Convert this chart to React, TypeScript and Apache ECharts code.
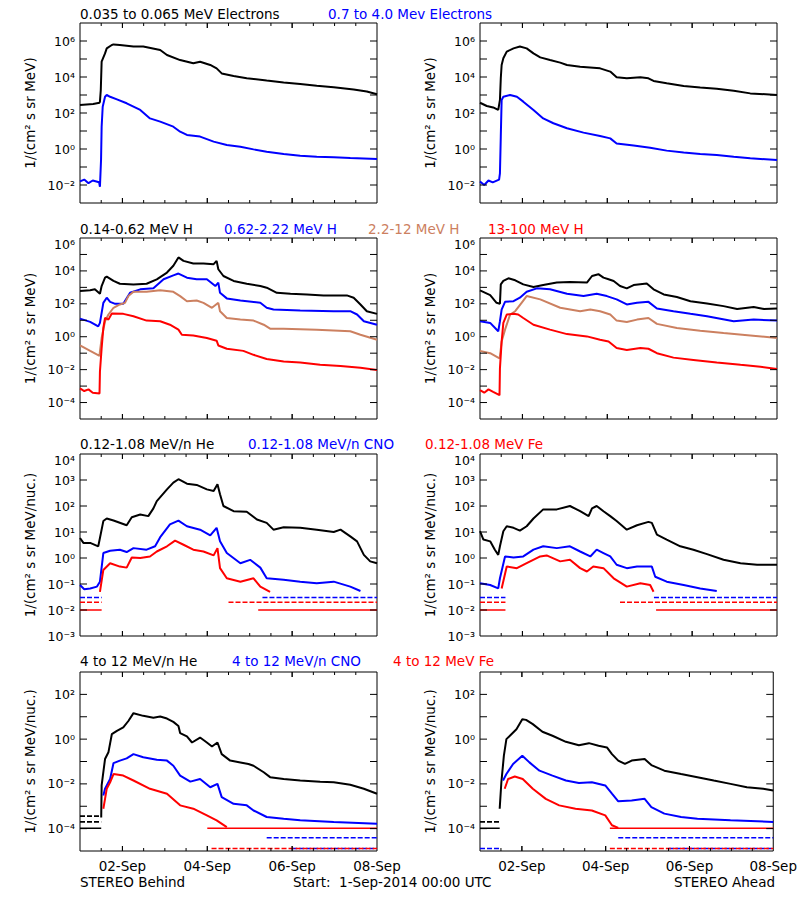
import React, { useEffect, useRef } from "react";
import * as echarts from "echarts";

// Time: days since 1-Sep-2014 00:00 UTC. Values: log10 of flux (plotted on decade axes).
// ---------- Row 1: electrons ----------
const behindElecLow = [[0,2.44],[0.31,2.5],[0.46,2.57],[0.47,2.63],[0.49,3.28],[0.51,4.85],[0.59,5.31],[0.63,5.59],[0.75,5.78],[0.79,5.81],[0.94,5.78],[1.26,5.69],[1.49,5.69],[1.89,5.5],[2.05,5.22],[2.36,4.94],[2.67,4.76],[2.83,4.85],[3.07,4.67],[3.22,4.48],[3.34,4.2],[3.62,4.06],[3.93,3.93],[4.4,3.8],[4.8,3.7],[5.19,3.61],[5.58,3.52],[5.98,3.43],[6.45,3.31],[6.76,3.19],[7,3.04]];
const behindElecHigh = [[0,-1.8],[0.1,-1.7],[0.2,-1.9],[0.3,-1.75],[0.45,-1.85],[0.47,-2.1],[0.496,-0.6],[0.51,1.24],[0.535,2.35],[0.59,2.9],[0.63,3.0],[0.71,2.9],[0.87,2.76],[1.1,2.54],[1.42,2.17],[1.65,1.7],[1.89,1.52],[2.2,1.24],[2.36,0.96],[2.52,0.78],[2.83,0.69],[3.15,0.41],[3.46,0.22],[3.78,0.13],[4.09,-0.02],[4.4,-0.15],[4.8,-0.28],[5.19,-0.37],[5.58,-0.43],[5.98,-0.46],[6.37,-0.5],[7,-0.56]];
const aheadElecLow = [[0,2.57],[0.16,2.39],[0.31,2.31],[0.43,2.17],[0.47,2.72],[0.49,3.93],[0.51,4.67],[0.55,5.04],[0.63,5.41],[0.79,5.59],[0.94,5.69],[1.1,5.59],[1.26,5.31],[1.42,5.09],[1.65,4.94],[1.89,4.8],[2.05,4.67],[2.36,4.57],[2.67,4.52],[2.83,4.48],[3.07,4.3],[3.22,3.98],[3.46,3.93],[3.78,3.98],[3.97,3.93],[4.09,3.78],[4.4,3.65],[4.8,3.5],[5.19,3.41],[5.58,3.35],[5.98,3.24],[6.37,3.09],[7,3.0]];
const aheadElecHigh = [[0,-1.8],[0.1,-2.0],[0.2,-1.75],[0.3,-1.85],[0.45,-1.7],[0.47,-1.35],[0.49,0.69],[0.51,2.72],[0.55,2.9],[0.71,3.0],[0.87,2.9],[1.02,2.63],[1.26,2.17],[1.49,1.7],[1.73,1.43],[2.05,1.15],[2.44,0.91],[2.83,0.72],[3.07,0.59],[3.22,0.31],[3.62,0.19],[4.01,0.07],[4.4,-0.09],[4.8,-0.2],[5.19,-0.28],[5.58,-0.33],[5.98,-0.43],[6.37,-0.52],[7,-0.61]];

// ---------- Row 2: protons ----------
const behindH1 = [[0,2.78],[0.24,2.82],[0.35,2.88],[0.47,2.61],[0.51,3.08],[0.59,3.59],[0.63,3.65],[0.79,3.39],[0.94,3.22],[1.26,3.18],[1.57,3.22],[1.81,3.49],[2.05,3.9],[2.2,4.31],[2.32,4.82],[2.44,4.61],[2.67,4.45],[2.91,4.45],[3.15,4.41],[3.22,4.61],[3.26,4.1],[3.38,3.69],[3.62,3.39],[3.93,3.22],[4.25,3.08],[4.4,2.98],[4.64,2.67],[4.96,2.61],[5.35,2.57],[5.74,2.51],[6.29,2.51],[6.45,2.37],[6.61,1.96],[6.76,1.55],[7,1.39]];
const behindH2 = [[0,1.1],[0.24,0.9],[0.43,0.63],[0.47,0.84],[0.55,2.06],[0.63,2.37],[0.71,2.12],[0.83,2.0],[1.02,2.0],[1.18,2.67],[1.42,2.88],[1.73,2.94],[1.97,3.49],[2.2,3.73],[2.32,3.84],[2.52,3.59],[2.75,3.49],[2.99,3.49],[3.19,3.08],[3.26,3.29],[3.3,2.67],[3.46,2.33],[3.78,2.2],[4.25,2.06],[4.4,1.76],[4.56,1.65],[5.19,1.59],[5.98,1.55],[6.37,1.55],[6.53,1.35],[6.69,0.94],[7,0.73]];
const behindH3 = [[0,-0.53],[0.24,-0.86],[0.46,-1.16],[0.47,-0.9],[0.51,-0.08],[0.59,0.94],[0.67,1.35],[0.79,1.76],[0.94,1.96],[1.06,2.06],[1.14,2.47],[1.26,2.73],[1.57,2.73],[1.89,2.82],[2.2,2.73],[2.36,2.47],[2.52,2.16],[2.75,2.2],[2.91,2.06],[3.11,1.76],[3.26,2.06],[3.3,1.55],[3.46,1.14],[3.78,1.04],[4.09,0.98],[4.33,0.73],[4.48,0.49],[4.8,0.49],[5.58,0.43],[6.37,0.33],[6.61,0.12],[7,-0.18]];
const behindH4 = [[0,-3.14],[0.1,-3.3],[0.2,-3.2],[0.3,-3.4],[0.46,-3.45],[0.47,-2.12],[0.51,-0.69],[0.55,0.53],[0.59,1.14],[0.67,1.04],[0.75,1.41],[1.02,1.39],[1.26,1.24],[1.57,0.98],[1.89,0.94],[2.12,0.73],[2.32,0.43],[2.4,0.12],[2.67,0.08],[2.99,-0.08],[3.22,-0.24],[3.26,-0.53],[3.46,-0.73],[3.85,-0.86],[4.09,-1.1],[4.4,-1.35],[4.8,-1.51],[5.19,-1.57],[5.66,-1.71],[6.14,-1.78],[6.61,-1.88],[7,-2.02]];
const aheadH1 = [[0,2.82],[0.24,2.53],[0.39,2.06],[0.47,2.0],[0.49,3.18],[0.55,3.39],[0.67,3.55],[0.83,3.43],[1.02,3.18],[1.26,3.02],[1.49,3.14],[1.81,3.29],[2.12,3.33],[2.52,3.29],[2.64,3.69],[2.79,3.8],[2.91,3.59],[3.03,3.49],[3.15,3.39],[3.3,3.08],[3.46,2.94],[3.62,3.14],[3.93,3.24],[4.09,2.88],[4.33,2.57],[4.64,2.41],[4.96,2.16],[5.35,2.02],[5.74,1.86],[6.06,1.69],[6.45,1.8],[6.69,1.69],[7,1.71]];
const aheadH2 = [[0,0.94],[0.24,0.84],[0.43,0.33],[0.47,0.94],[0.51,1.65],[0.59,2.12],[0.79,2.16],[0.94,2.37],[1.1,2.73],[1.34,2.94],[1.65,2.88],[2.05,2.61],[2.44,2.47],[2.75,2.61],[2.99,2.47],[3.22,2.27],[3.46,1.96],[3.7,2.06],[3.97,2.12],[4.17,1.71],[4.56,1.55],[4.96,1.39],[5.35,1.24],[5.98,0.94],[6.45,1.04],[7,0.98]];
const aheadH3 = [[0,-0.86],[0.24,-1.0],[0.46,-1.31],[0.47,-1.2],[0.51,-0.29],[0.59,0.43],[0.71,1.35],[0.83,1.55],[0.98,2.06],[1.1,2.47],[1.42,2.27],[1.89,1.76],[2.36,1.55],[2.6,1.65],[2.83,1.55],[3.07,1.35],[3.22,0.98],[3.46,0.9],[3.7,1.04],[3.97,1.14],[4.17,0.78],[4.64,0.53],[5.19,0.37],[5.74,0.22],[6.37,0.08],[7,-0.08]];
const aheadH4 = [[0,-3.24],[0.1,-3.4],[0.2,-3.2],[0.31,-3.35],[0.46,-3.55],[0.47,-1.92],[0.51,-0.29],[0.55,0.84],[0.63,1.35],[0.79,1.39],[0.9,1.35],[1.02,1.14],[1.26,0.73],[1.65,0.43],[2.05,0.16],[2.52,0.02],[2.83,-0.18],[3.03,-0.29],[3.22,-0.69],[3.46,-0.8],[3.78,-0.69],[3.97,-0.73],[4.17,-1.0],[4.56,-1.27],[5.03,-1.41],[5.58,-1.57],[6.14,-1.71],[6.61,-1.82],[7,-1.96]];

// ---------- Row 3: low-energy heavy ions ----------
const behindHeLow = [[0,0.77],[0.08,0.58],[0.24,0.58],[0.43,0.45],[0.47,0.77],[0.55,1.42],[0.63,1.52],[0.79,1.44],[1.1,1.26],[1.22,1.57],[1.42,1.67],[1.61,1.61],[1.73,1.91],[1.81,2.19],[2.05,2.64],[2.2,2.9],[2.32,3.03],[2.52,2.86],[2.75,2.81],[2.99,2.64],[3.15,2.58],[3.24,2.84],[3.3,2.45],[3.38,2.0],[3.62,1.8],[3.93,1.78],[4.17,1.48],[4.4,1.35],[4.56,1.09],[4.8,1.18],[5.19,1.16],[5.58,1.09],[5.98,1.0],[6.14,1.09],[6.37,0.83],[6.53,0.64],[6.69,0.12],[6.84,-0.13],[7,-0.2]];
const behindCnoLow = [[0,-1.04],[0.1,-1.2],[0.24,-1.17],[0.4,-1.1],[0.47,-0.91],[0.55,0.19],[0.71,0.28],[0.94,0.32],[1.1,0.23],[1.26,0.38],[1.57,0.32],[1.77,0.45],[1.89,0.8],[2.12,1.29],[2.32,1.44],[2.52,1.22],[2.83,1.09],[3.07,0.87],[3.22,1.16],[3.3,0.64],[3.46,0.19],[3.78,-0.2],[4.01,-0.07],[4.25,-0.37],[4.4,-0.78],[4.8,-0.84],[5.19,-0.91],[5.58,-0.97],[5.98,-0.91],[6.37,-1.1],[6.61,-1.27]];
const behindFeLow = [[0.47,-1.3],[0.55,-0.46],[0.71,-0.2],[0.94,-0.33],[1.1,-0.37],[1.22,0.02],[1.42,0.0],[1.65,0.06],[1.81,0.25],[2.05,0.45],[2.24,0.67],[2.44,0.51],[2.67,0.32],[2.91,0.25],[3.15,0.1],[3.24,0.38],[3.3,-0.39],[3.46,-0.78],[3.78,-0.91],[4.09,-0.78],[4.25,-1.1],[4.48,-1.3]];
const aheadHeLow = [[0,1.03],[0.08,0.71],[0.24,0.64],[0.35,0.32],[0.43,0.12],[0.47,0.45],[0.55,1.03],[0.63,1.22],[0.79,1.16],[0.94,1.05],[1.1,1.22],[1.26,1.52],[1.49,1.87],[1.81,1.87],[2.12,2.0],[2.36,1.8],[2.56,1.61],[2.64,1.91],[2.75,2.0],[2.91,1.8],[3.07,1.61],[3.22,1.42],[3.46,1.09],[3.7,1.26],[3.97,1.39],[4.05,1.35],[4.17,0.9],[4.4,0.71],[4.72,0.45],[5.03,0.32],[5.35,0.15],[5.74,-0.07],[6.14,-0.2],[6.53,-0.26],[7,-0.26]];
const aheadCnoLow = [[0,-0.97],[0.24,-1.04],[0.43,-1.17],[0.47,-0.78],[0.59,0.06],[0.79,0.02],[1.02,0.06],[1.26,0.32],[1.49,0.45],[1.81,0.38],[2.12,0.45],[2.36,0.25],[2.6,0.06],[2.75,0.32],[2.91,0.19],[3.07,0.06],[3.22,-0.26],[3.46,-0.39],[3.7,-0.33],[4.05,-0.33],[4.13,-0.72],[4.4,-0.91],[4.8,-1.04],[5.19,-1.17],[5.58,-1.27]];
const aheadFeLow = [[0.51,-1.17],[0.63,-0.33],[0.87,-0.39],[1.1,-0.2],[1.42,0.06],[1.57,0.1],[1.89,-0.13],[2.12,-0.07],[2.36,-0.39],[2.52,-0.52],[2.67,-0.33],[2.91,-0.39],[3.15,-0.78],[3.46,-1.1],[3.78,-0.97],[4.01,-1.04],[4.09,-1.3]];

// ---------- Row 4: high-energy heavy ions ----------
const behindHeHigh = [[0.5,-3.5],[0.51,-2.07],[0.55,-1.48],[0.59,-0.89],[0.67,-0.59],[0.75,0.22],[0.87,0.37],[1.02,0.52],[1.14,0.81],[1.26,1.16],[1.49,1.04],[1.73,0.96],[1.89,1.01],[2.05,0.92],[2.2,0.77],[2.32,0.59],[2.36,0.27],[2.52,0.12],[2.64,-0.15],[2.83,0.07],[2.99,-0.15],[3.11,-0.33],[3.24,-0.15],[3.34,-0.67],[3.54,-0.96],[3.78,-1.04],[3.97,-1.11],[4.09,-1.19],[4.33,-1.48],[4.48,-1.7],[4.8,-1.78],[5.19,-1.85],[5.66,-1.9],[5.98,-1.93],[6.37,-2.04],[6.69,-2.22],[7,-2.44]];
const behindCnoHigh = [[0.55,-2.52],[0.59,-2.22],[0.63,-2.07],[0.71,-1.78],[0.79,-1.07],[0.94,-0.96],[1.1,-0.86],[1.26,-0.67],[1.49,-0.81],[1.81,-0.92],[2.05,-0.96],[2.2,-1.19],[2.36,-1.63],[2.6,-1.9],[2.83,-1.78],[3.07,-2.15],[3.24,-2.0],[3.34,-2.59],[3.62,-2.89],[3.93,-2.96],[4.09,-3.19],[4.4,-3.48],[4.8,-3.56],[5.19,-3.63],[5.98,-3.7],[7,-3.78]];
const behindFeHigh = [[0.55,-3.11],[0.59,-2.67],[0.63,-2.22],[0.71,-1.93],[0.79,-1.56],[1.02,-1.63],[1.26,-1.85],[1.65,-2.22],[2.05,-2.44],[2.36,-2.96],[2.67,-3.11],[2.99,-3.41],[3.22,-3.63],[3.46,-3.93]];
const aheadHeHigh = [[0.47,-3.11],[0.51,-1.93],[0.57,-0.74],[0.63,0.0],[0.75,0.22],[0.87,0.44],[1.01,0.89],[1.1,0.86],[1.26,0.67],[1.49,0.33],[1.73,0.15],[2.05,-0.12],[2.36,-0.27],[2.6,-0.18],[2.83,-0.3],[3.03,-0.37],[3.15,-0.67],[3.3,-0.96],[3.46,-1.11],[3.62,-0.96],[3.93,-0.89],[4.09,-1.16],[4.4,-1.41],[4.8,-1.56],[5.19,-1.7],[5.58,-1.85],[5.98,-2.0],[6.37,-2.15],[6.76,-2.22],[7,-2.3]];
const aheadCnoHigh = [[0.55,-1.85],[0.63,-1.56],[0.79,-1.11],[1.01,-0.74],[1.18,-1.04],[1.42,-1.41],[1.73,-1.63],[2.05,-1.85],[2.36,-1.96],[2.67,-1.93],[2.99,-2.07],[3.15,-2.44],[3.3,-2.78],[3.62,-2.74],[3.93,-2.67],[4.09,-3.04],[4.4,-3.33],[4.8,-3.48],[5.19,-3.56],[5.98,-3.63],[7,-3.7]];
const aheadFeHigh = [[0.59,-2.22],[0.67,-1.78],[0.83,-1.67],[1.02,-1.78],[1.26,-2.22],[1.57,-2.67],[1.89,-2.96],[2.28,-3.11],[2.67,-3.19],[2.99,-3.41],[3.15,-3.85],[3.3,-3.97]];

// One-count floors: [start day, end day, log10 level, dashed 0/1]
const behindFloorsLowBlue = [[0,0.51,-1.52,1],[4.3,7,-1.52,1]];
const behindFloorsLowRed = [[0,0.51,-1.7,1],[3.5,7,-1.7,1],[0,0.51,-2.0,0],[4.2,7,-2.0,0]];
const aheadFloorsLowBlue = [[0,0.6,-1.52,1],[4.1,7,-1.52,1]];
const aheadFloorsLowRed = [[0,0.6,-1.7,1],[3.3,7,-1.7,1],[0,0.6,-2.0,0],[4.15,7,-2.0,0]];
const behindFloorsHighBlack = [[0,0.5,-3.44,1],[0,0.5,-3.7,1],[0,0.5,-3.98,0]];
const behindFloorsHighBlue = [[4.4,7,-4.41,1],[5,7,-4.89,1]];
const behindFloorsHighRed = [[3.0,7,-3.98,0],[3.1,7,-4.89,1]];
const aheadFloorsHighBlack = [[0,0.47,-3.7,1],[0,0.47,-3.98,0]];
const aheadFloorsHighBlue = [[0,0.5,-4.89,1],[3.3,7,-4.41,1],[4.5,7,-4.89,1]];
const aheadFloorsHighRed = [[3.1,7,-3.98,0],[3.1,7,-4.89,1]];

// Axis ranges (decades) per row: [min, max, label step]
const rowDecades = [[-3, 7, 2], [-5, 6, 2], [-3, 4, 1], [-5, 3, 2]];
const rowTop = [23, 238, 454, 672];
const rowHeight = [180, 181, 182, 179];
const colLeft = [80, 480];
const xTickDays = [0.5, 1, 1.5, 2, 2.5, 3, 3.5, 4, 4.5, 5, 5.5, 6, 6.5];
const xLabelDays = [1, 3, 5, 7];
const dateLabels: Record<string, string> = { "1": "02-Sep", "3": "04-Sep", "5": "06-Sep", "7": "08-Sep" };
const yTitles = ["1/(cm² s sr MeV)", "1/(cm² s sr MeV)", "1/(cm² s sr MeV/nuc.)", "1/(cm² s sr MeV/nuc.)"];

const titles: [string, string, number, number][] = [
  ["0.035 to 0.065 MeV Electrons", "#000000", 80, 14],
  ["0.7 to 4.0 Mev Electrons", "#0000ff", 328, 14],
  ["0.14-0.62 MeV H", "#000000", 80, 229],
  ["0.62-2.22 MeV H", "#0000ff", 224, 229],
  ["2.2-12 MeV H", "#cc8060", 368, 229],
  ["13-100 MeV H", "#ff0000", 488, 229],
  ["0.12-1.08 MeV/n He", "#000000", 80, 444],
  ["0.12-1.08 MeV/n CNO", "#0000ff", 248, 444],
  ["0.12-1.08 MeV Fe", "#ff0000", 425, 444],
  ["4 to 12 MeV/n He", "#000000", 80, 661],
  ["4 to 12 MeV/n CNO", "#0000ff", 232, 661],
  ["4 to 12 MeV Fe", "#ff0000", 393, 661],
];

const FONT = "DejaVu Sans";
const BLACK = "#000000";
const BLUE = "#0000ff";
const TAN = "#cc8060";
const RED = "#ff0000";

const SUP: Record<string, string> = { "-": "⁻", "0": "⁰", "1": "¹", "2": "²", "3": "³", "4": "⁴", "5": "⁵", "6": "⁶", "7": "⁷", "8": "⁸", "9": "⁹" };
const pow10Label = (v: number) => "10" + String(Math.round(v)).split("").map((c) => SUP[c] || c).join("");

export default function App() {
  const ref = useRef<HTMLDivElement>(null);
  useEffect(() => {
    if (!ref.current) return;
    const chart = echarts.init(ref.current, null, { renderer: "svg" });

    const panels = [
      { lines: [[behindElecLow, BLACK], [behindElecHigh, BLUE]], floors: [] as any[] },
      { lines: [[aheadElecLow, BLACK], [aheadElecHigh, BLUE]], floors: [] as any[] },
      { lines: [[behindH1, BLACK], [behindH2, BLUE], [behindH3, TAN], [behindH4, RED]], floors: [] as any[] },
      { lines: [[aheadH1, BLACK], [aheadH2, BLUE], [aheadH3, TAN], [aheadH4, RED]], floors: [] as any[] },
      { lines: [[behindHeLow, BLACK], [behindCnoLow, BLUE], [behindFeLow, RED]], floors: [[behindFloorsLowBlue, BLUE], [behindFloorsLowRed, RED]] },
      { lines: [[aheadHeLow, BLACK], [aheadCnoLow, BLUE], [aheadFeLow, RED]], floors: [[aheadFloorsLowBlue, BLUE], [aheadFloorsLowRed, RED]] },
      { lines: [[behindHeHigh, BLACK], [behindCnoHigh, BLUE], [behindFeHigh, RED]], floors: [[behindFloorsHighBlack, BLACK], [behindFloorsHighBlue, BLUE], [behindFloorsHighRed, RED]] },
      { lines: [[aheadHeHigh, BLACK], [aheadCnoHigh, BLUE], [aheadFeHigh, RED]], floors: [[aheadFloorsHighBlack, BLACK], [aheadFloorsHighBlue, BLUE], [aheadFloorsHighRed, RED]] },
    ];

    const grids: any[] = [];
    const xAxes: any[] = [];
    const yAxes: any[] = [];
    const series: any[] = [];

    panels.forEach((panel, p) => {
      const row = Math.floor(p / 2);
      const col = p % 2;
      const [ymin, ymax, every] = rowDecades[row];
      grids.push({
        left: colLeft[col], top: rowTop[row], width: 297, height: rowHeight[row],
        show: true, borderColor: "#000", borderWidth: 1, backgroundColor: "transparent",
      });
      const isBottom = row === 3;
      xAxes.push({
        type: "value", gridIndex: p, min: 0, max: 7, interval: 0.5, position: "bottom",
        axisLine: { show: false, onZero: false }, splitLine: { show: false }, axisTick: { show: false },
        axisLabel: {
          show: isBottom, margin: 8, color: "#000", fontFamily: FONT, fontSize: 13.5,
          showMinLabel: true, showMaxLabel: true,
          formatter: (v: number) => dateLabels[String(v)] || "",
        },
      });
      yAxes.push({
        type: "value", gridIndex: p, min: ymin, max: ymax, interval: 1, position: "left",
        axisLine: { show: false, onZero: false }, splitLine: { show: false }, axisTick: { show: false },
        name: yTitles[row], nameLocation: "middle", nameGap: 43,
        nameTextStyle: { color: "#000", fontFamily: FONT, fontSize: 13.5 },
        axisLabel: {
          show: true, margin: 5, color: "#000", fontFamily: FONT, fontSize: 12.5,
          showMinLabel: true, showMaxLabel: true, verticalAlignMaxLabel: "top",
          formatter: (v: number) => (Math.abs(Math.round(v)) % every === 0 ? pow10Label(v) : ""),
        },
      });

      // Tick marks on all four sides (inside), placed through the axes' own scales.
      series.push({
        type: "custom", xAxisIndex: p, yAxisIndex: p, silent: true, z: 10,
        data: [[0, ymin]],
        renderItem: (_params: any, api: any) => {
          const children: any[] = [];
          const st = { stroke: "#000", lineWidth: 1 };
          xTickDays.concat(xLabelDays.filter((d) => d < 7)).forEach((d) => {
            const len = xLabelDays.indexOf(d) >= 0 ? 5 : 3;
            const [x, yb] = api.coord([d, ymin]);
            const [, yt] = api.coord([d, ymax]);
            children.push({ type: "line", shape: { x1: x, y1: yb, x2: x, y2: yb - len }, style: st });
            children.push({ type: "line", shape: { x1: x, y1: yt, x2: x, y2: yt + len }, style: st });
          });
          for (let dec = ymin + 1; dec < ymax; dec++) {
            const [xl, y] = api.coord([0, dec]);
            const [xr] = api.coord([7, dec]);
            children.push({ type: "line", shape: { x1: xl, y1: y, x2: xl + 7, y2: y }, style: st });
            children.push({ type: "line", shape: { x1: xr, y1: y, x2: xr - 7, y2: y }, style: st });
          }
          return { type: "group", children };
        },
      });

      panel.floors.forEach(([segs, color]: any) => {
        segs.forEach((s: number[]) => {
          series.push({
            type: "line", xAxisIndex: p, yAxisIndex: p,
            data: [[s[0], s[2]], [s[1], s[2]]],
            symbol: "none", silent: true, z: 1,
            lineStyle: { color, width: 1.6, type: s[3] ? [5, 2] : "solid" },
          });
        });
      });
      panel.lines.forEach(([data, color]: any, i: number) => {
        series.push({
          type: "line", xAxisIndex: p, yAxisIndex: p,
          data, symbol: "none", silent: true, z: 2 + i,
          lineStyle: { color, width: 2 },
        });
      });
    });

    const graphics: any[] = titles.map(([text, color, x, y]) => ({
      type: "text", x, y,
      style: { text, fill: color, fontFamily: FONT, fontSize: 13.5, verticalAlign: "middle", align: "left" },
    }));
    graphics.push(
      { type: "text", x: 80, y: 882, style: { text: "STEREO Behind", fill: "#000", fontFamily: FONT, fontSize: 13.5, verticalAlign: "middle", align: "left" } },
      { type: "text", x: 293, y: 882, style: { text: "Start:  1-Sep-2014 00:00 UTC", fill: "#000", fontFamily: FONT, fontSize: 13.5, verticalAlign: "middle", align: "left" } },
      { type: "text", x: 775, y: 882, style: { text: "STEREO Ahead", fill: "#000", fontFamily: FONT, fontSize: 13.5, verticalAlign: "middle", align: "right" } },
    );

    chart.setOption({
      animation: false,
      backgroundColor: "#ffffff",
      grid: grids,
      xAxis: xAxes,
      yAxis: yAxes,
      series,
      graphic: graphics,
    });
    return () => chart.dispose();
  }, []);

  return <div ref={ref} style={{ position: "absolute", left: 0, top: 0, width: 800, height: 900 }} />;
}
